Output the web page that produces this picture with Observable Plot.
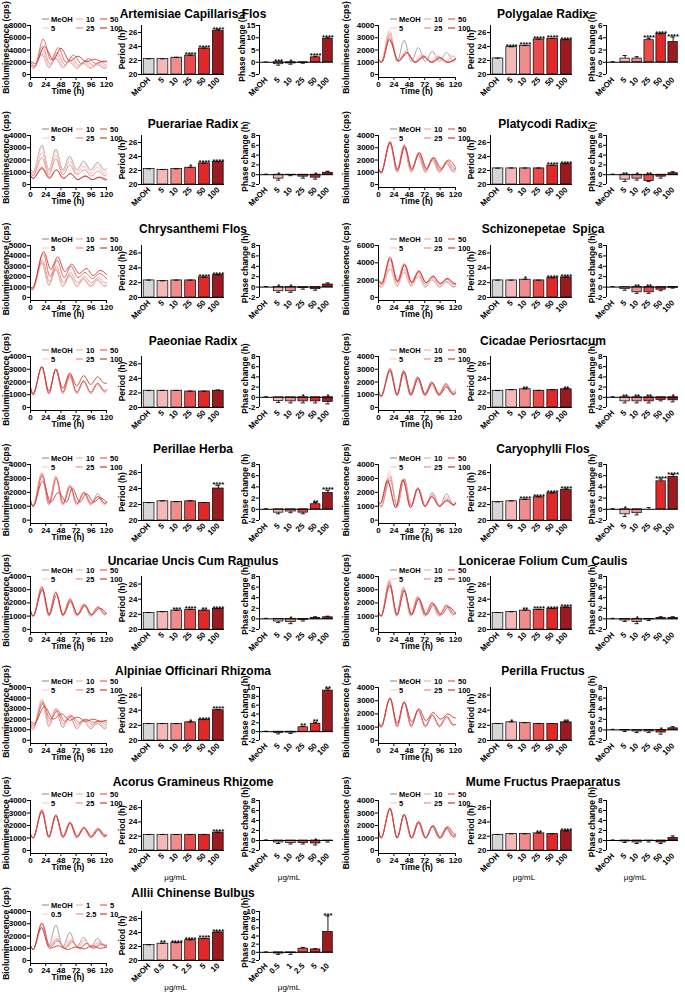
<!DOCTYPE html>
<html><head><meta charset="utf-8">
<script src="https://cdn.jsdelivr.net/npm/d3@7"></script>
<script src="https://cdn.jsdelivr.net/npm/@observablehq/plot@0.6"></script>
<style>
body{margin:0;background:#fff;}
#fig{position:relative;width:685px;height:992px;overflow:hidden;background:#fff;font-family:"Liberation Sans",Arial,sans-serif;}
#fig svg{position:absolute;}
</style></head><body><div id="fig"></div>
<script>
// ---------------- DATA ----------------
const titles = ["Artemisiae Capillaris Flos","Polygalae Radix","Puerariae Radix","Platycodi Radix",
  "Chrysanthemi Flos","Schizonepetae  Spica","Paeoniae Radix","Cicadae Periosrtacum",
  "Perillae Herba","Caryophylli Flos","Uncariae Uncis Cum Ramulus","Lonicerae Folium Cum Caulis",
  "Alpiniae Officinari Rhizoma","Perilla Fructus","Acorus Gramineus Rhizome","Mume Fructus Praeparatus",
  "Allii Chinense Bulbus"];
const doseLabels = ["MeOH","5","10","25","50","100"];
const alliiDoseLabels = ["MeOH","0.5","1","2.5","5","10"];
const timeTicks = [0,24,48,72,96,120];
const periodTicks = [20,22,24,26];
const unitLabel = "μg/mL";
const unitPanels = [14,15,16];
// luminescence axis maximum (×1000 cps) and tick step
const lumMax = [8,4,4,4,5,6,4,4,4,4,4,4,5,4,4,4,4];
const lumStep = [2,1,1,1,1,2,1,1,1,1,1,1,1,1,1,1,1];
// bioluminescence traces: [time h, cps/1000, ...] at peaks / troughs, series MeOH..highest dose
const lumCurves = [
[[0,1.5,5,1.0,18,3.3,29,1.1,40,2.6,51,1.1,62,2.1,73,1.0,84,1.8,95,1.0,106,1.6,117,1.0,120,1.1],
 [0,1.4,5,1.0,18,3.6,29,1.2,40,2.9,51,1.2,62,2.3,73,1.1,85,2.0,96,1.1,107,1.7,118,1.1,120,1.2],
 [0,1.6,5,1.1,19,4.0,30,1.4,41,3.2,52,1.3,63,2.5,74,1.3,86,2.1,97,1.3,108,1.8,119,1.3,120,1.3],
 [0,1.7,6,1.2,19,4.6,31,1.7,42,3.6,54,1.6,65,2.8,76,1.5,88,2.3,99,1.5,110,2.0,120,1.5],
 [0,1.9,7,1.4,20,5.8,32,2.4,44,4.4,56,2.0,68,3.2,80,1.8,92,2.6,103,1.8,115,2.2,120,2.0],
 [0,2.1,8,1.8,22,4.6,36,2.4,48,4.3,62,2.2,75,3.0,88,2.1,101,2.5,114,2.1,120,2.2]],
[[0,1.3,4,1.05,18,3.3,29,1.05,40,2.8,51,1.05,62,2.2,73,1.05,84,1.9,95,1.05,106,1.8,117,1.1,120,1.2],
 [0,1.25,4,1.0,17,3.7,30,1.1,42,2.0,55,1.0,67,1.7,80,1.0,91,1.6,103,1.0,114,1.6,120,1.4],
 [0,1.25,4,1.0,17,3.5,30,1.1,43,1.9,56,1.0,68,1.6,81,1.0,93,1.5,105,1.0,116,1.5,120,1.4],
 [0,1.2,5,1.0,17,3.1,31,1.1,44,1.8,57,1.0,70,1.5,83,1.0,95,1.4,108,1.0,120,1.3],
 [0,1.2,5,1.0,17,2.8,31,1.1,45,1.7,58,1.0,71,1.4,84,1.0,96,1.3,109,1.0,120,1.25],
 [0,1.2,5,1.0,17,2.9,31,1.1,44,1.8,57,1.0,70,1.5,83,1.0,95,1.4,108,1.0,120,1.3]],
[[0,1.3,4,1.0,18,3.2,29,1.2,40,2.9,51,1.2,62,2.3,73,1.2,84,1.9,95,1.2,106,1.8,117,1.2,120,1.3],
 [0,1.2,4,0.9,18,3.0,29,1.1,40,2.7,51,1.1,62,2.1,73,1.1,84,1.7,95,1.1,106,1.6,117,1.1,120,1.1],
 [0,1.1,4,0.8,18,2.6,29,1.0,40,2.4,51,1.0,62,1.9,73,0.9,84,1.5,95,0.9,106,1.4,117,0.9,120,1.0],
 [0,1.0,4,0.7,18,2.2,29,0.8,40,2.1,51,0.8,62,1.6,73,0.8,85,1.2,96,0.7,107,1.1,118,0.7,120,0.8],
 [0,0.8,4,0.5,18,1.4,30,0.6,41,1.2,52,0.5,63,0.9,74,0.4,86,0.7,97,0.4,108,0.6,119,0.35,120,0.4],
 [0,0.7,4,0.5,18,1.3,30,0.5,41,1.2,52,0.5,63,0.9,75,0.4,87,0.7,98,0.4,109,0.6,120,0.4]],
[[0,1.3,4,1.0,18,3.4,29,1.1,40,3.1,51,1.1,62,2.5,73,1.1,84,2.1,95,1.1,106,1.9,117,1.2,120,1.3],
 [0,1.2,4,0.9,18,3.6,29,1.1,40,3.3,51,1.1,62,2.6,73,1.1,84,2.2,95,1.1,106,1.9,117,1.1,120,1.2],
 [0,1.2,4,0.9,18,3.5,29,1.1,40,3.2,51,1.1,62,2.5,73,1.0,84,2.1,95,1.0,106,1.8,117,1.1,120,1.2],
 [0,1.2,4,0.9,18,3.3,29,1.0,40,3.0,51,1.0,62,2.4,73,1.0,84,2.0,95,1.0,106,1.7,117,1.0,120,1.1],
 [0,1.3,4,1.0,18,3.5,29,1.2,40,3.2,52,1.2,63,2.6,74,1.2,85,2.2,96,1.2,108,1.9,119,1.3,120,1.3],
 [0,1.3,4,1.0,18,3.4,30,1.2,41,3.1,52,1.3,64,2.6,75,1.3,86,2.2,98,1.3,109,2.0,120,1.4]],
[[0,0.8,3,0.7,18,3.3,29,1.2,40,2.7,51,1.1,62,2.1,73,1.1,84,1.8,95,1.1,106,1.7,117,1.1,120,1.2],
 [0,0.8,3,0.7,18,3.2,29,1.1,40,2.6,51,1.0,62,2.0,73,1.0,84,1.6,95,1.0,106,1.5,117,1.0,120,1.1],
 [0,0.8,3,0.7,18,3.4,29,1.2,40,2.8,51,1.1,62,2.2,73,1.1,84,1.8,95,1.1,106,1.7,117,1.1,120,1.2],
 [0,0.9,3,0.8,19,3.6,30,1.5,41,3.0,52,1.4,63,2.4,74,1.4,85,2.0,96,1.4,107,1.9,118,1.4,120,1.4],
 [0,1.0,3,0.9,20,4.2,31,2.0,42,3.6,53,1.9,64,3.0,75,1.9,86,2.4,98,1.8,109,2.3,120,1.8],
 [0,1.0,3,0.9,21,4.4,32,2.7,43,3.9,54,2.5,65,3.2,77,2.3,88,2.8,99,2.1,110,2.6,120,2.2]],
[[0,1.5,5,1.2,18,3.3,29,1.3,40,2.9,51,1.3,62,2.4,73,1.2,84,2.0,95,1.2,106,1.8,117,1.2,120,1.3],
 [0,1.4,5,1.1,18,3.4,29,1.2,40,3.0,51,1.2,62,2.4,73,1.1,84,2.0,95,1.1,106,1.7,117,1.1,120,1.2],
 [0,1.6,5,1.3,18,3.8,29,1.4,40,3.3,51,1.4,62,2.6,73,1.3,84,2.1,95,1.3,106,1.9,117,1.3,120,1.4],
 [0,1.8,5,1.5,18,4.3,29,1.7,40,3.7,51,1.6,62,2.9,73,1.5,84,2.3,95,1.5,106,2.1,117,1.5,120,1.5],
 [0,2.0,5,1.7,18,4.7,29,1.9,40,3.9,51,1.8,63,3.1,74,1.7,85,2.5,96,1.6,107,2.2,118,1.6,120,1.6],
 [0,1.9,5,1.6,18,4.5,30,1.8,41,3.8,52,1.7,63,3.0,74,1.7,85,2.4,97,1.6,108,2.2,119,1.6,120,1.6]],
[[0,1.5,4,1.0,18,3.2,29,1.1,40,3.0,51,1.1,62,2.4,73,1.1,84,2.0,95,1.1,106,1.8,117,1.2,120,1.3],
 [0,1.4,4,1.0,18,3.2,29,1.1,40,3.0,51,1.1,62,2.5,73,1.1,84,2.0,95,1.1,106,1.8,117,1.2,120,1.3],
 [0,1.4,4,1.0,18,3.1,29,1.1,40,2.9,51,1.1,62,2.4,73,1.1,84,2.0,95,1.1,106,1.8,117,1.2,120,1.3],
 [0,1.5,4,1.0,18,3.2,29,1.1,40,3.0,51,1.2,62,2.5,73,1.2,84,2.1,95,1.2,106,1.9,117,1.3,120,1.4],
 [0,1.5,4,1.0,18,3.2,29,1.1,40,3.0,51,1.2,62,2.6,73,1.2,84,2.1,95,1.2,106,1.9,117,1.3,120,1.4],
 [0,1.6,4,1.1,18,3.2,29,1.3,40,3.0,51,1.5,62,2.7,73,1.7,84,2.5,95,1.8,106,2.4,117,1.9,120,1.9]],
[[0,1.3,4,0.9,18,3.1,29,1.1,39,2.9,50,1.1,61,2.4,72,1.1,83,2.0,94,1.1,105,1.9,116,1.2,120,1.4],
 [0,1.2,4,0.9,18,3.0,29,1.0,39,2.8,50,1.0,61,2.3,72,1.0,83,1.9,94,1.0,105,1.7,116,1.1,120,1.2],
 [0,1.2,4,0.9,18,2.9,29,1.0,39,2.8,50,1.0,61,2.3,72,1.0,83,1.9,94,1.0,105,1.7,116,1.1,120,1.2],
 [0,1.2,4,0.8,18,2.8,29,0.9,39,2.7,50,0.9,61,2.2,72,0.9,83,1.8,94,0.9,105,1.6,116,1.0,120,1.1],
 [0,1.2,4,0.9,18,3.0,29,1.0,39,2.9,50,1.0,61,2.4,72,1.0,83,2.0,94,1.0,105,1.8,116,1.1,120,1.2],
 [0,1.2,4,0.9,18,2.9,29,1.0,40,2.8,51,1.0,62,2.3,73,1.0,84,1.9,95,1.0,106,1.6,117,1.0,120,1.1]],
[[0,1.4,4,1.0,18,3.2,29,1.1,40,3.1,51,1.1,62,2.5,73,1.1,84,2.0,95,1.1,106,1.9,117,1.2,120,1.3],
 [0,1.4,4,1.0,18,3.4,29,1.1,40,3.2,51,1.1,62,2.5,73,1.1,84,2.0,95,1.1,106,1.7,117,1.1,120,1.2],
 [0,1.4,4,1.0,18,3.3,29,1.1,40,3.1,51,1.1,62,2.4,73,1.1,84,2.0,95,1.1,106,1.7,117,1.1,120,1.2],
 [0,1.4,4,1.0,18,3.4,29,1.2,40,3.1,51,1.2,62,2.5,73,1.2,84,2.0,95,1.2,106,1.7,117,1.2,120,1.3],
 [0,1.4,4,1.0,19,3.2,30,1.2,41,3.0,52,1.2,63,2.4,74,1.2,85,2.0,96,1.2,107,1.7,118,1.2,120,1.3],
 [0,1.4,4,1.0,19,2.8,32,1.3,44,2.0,57,1.3,66,2.3,78,1.3,88,1.9,100,1.3,110,1.6,120,1.3]],
[[0,1.2,4,1.0,18,2.9,29,1.0,40,3.0,51,1.0,62,2.3,73,1.0,84,2.0,95,1.0,106,1.9,117,1.1,120,1.3],
 [0,1.1,4,0.9,17,3.6,29,1.0,40,2.9,51,1.0,62,2.3,73,1.0,84,1.9,95,1.0,106,1.7,117,1.1,120,1.2],
 [0,1.1,4,0.9,17,3.3,29,1.0,40,2.9,51,1.0,62,2.3,73,1.0,84,1.9,95,1.0,106,1.6,117,1.0,120,1.2],
 [0,1.2,4,1.0,18,3.1,29,1.0,40,2.9,51,1.0,62,2.3,73,1.0,85,1.8,96,1.0,107,1.5,118,1.1,120,1.2],
 [0,1.3,3,1.2,14,2.9,27,0.9,38,2.9,50,0.9,61,2.3,72,1.0,83,1.7,95,1.0,106,1.4,117,1.1,120,1.2],
 [0,1.3,3,1.2,14,2.8,27,0.9,38,2.9,50,0.9,61,2.3,72,1.0,83,1.7,95,1.0,106,1.4,118,1.1,120,1.2]],
[[0,1.4,4,1.0,18,3.0,29,1.0,40,2.8,51,1.0,62,2.2,73,1.0,84,1.9,95,1.0,106,1.7,117,1.1,120,1.2],
 [0,1.4,4,1.0,18,3.3,29,1.1,40,2.9,51,1.1,62,2.3,73,1.1,84,1.9,95,1.1,106,1.7,117,1.1,120,1.2],
 [0,1.4,4,1.0,18,3.2,29,1.1,40,2.8,51,1.1,62,2.3,73,1.1,84,1.9,95,1.1,106,1.7,117,1.1,120,1.2],
 [0,1.4,4,1.0,18,3.1,29,1.1,40,2.8,51,1.1,63,2.2,74,1.1,85,1.8,96,1.1,107,1.6,118,1.1,120,1.2],
 [0,1.4,4,1.0,18,3.2,29,1.1,40,2.8,51,1.1,63,2.3,74,1.1,85,1.9,96,1.1,107,1.7,118,1.2,120,1.2],
 [0,1.4,4,1.0,19,3.0,30,1.1,41,2.6,52,1.1,63,2.1,75,1.1,86,1.8,97,1.1,109,1.6,120,1.2]],
[[0,1.3,4,1.0,17,3.5,28,1.0,39,3.1,50,1.0,61,2.4,72,1.0,83,2.0,94,1.0,105,1.8,116,1.1,120,1.3],
 [0,1.3,4,1.0,17,3.8,28,1.1,39,3.2,50,1.1,61,2.5,72,1.0,83,2.1,94,1.0,105,1.9,116,1.1,120,1.3],
 [0,1.3,4,1.0,17,3.7,28,1.1,39,3.2,50,1.1,61,2.5,72,1.0,83,2.0,94,1.0,105,1.8,116,1.1,120,1.2],
 [0,1.3,4,1.0,17,3.6,28,1.1,39,3.1,51,1.1,62,2.4,73,1.1,84,2.0,95,1.1,106,1.8,117,1.1,120,1.2],
 [0,1.3,4,1.0,17,3.4,29,1.1,40,3.0,51,1.1,62,2.4,73,1.1,84,2.0,96,1.1,107,1.8,118,1.2,120,1.2],
 [0,1.3,4,1.0,18,3.3,29,1.1,40,2.9,52,1.1,63,2.3,75,1.1,86,1.9,98,1.1,109,1.7,120,1.2]],
[[0,1.4,4,1.0,18,3.6,29,1.3,40,2.8,51,1.2,62,2.2,73,1.1,84,1.8,95,1.1,106,1.6,117,1.1,120,1.2],
 [0,1.4,4,1.0,18,3.8,29,1.4,40,2.9,51,1.3,62,2.3,73,1.2,84,1.9,95,1.2,106,1.7,117,1.2,120,1.3],
 [0,1.5,4,1.1,18,3.9,29,1.5,40,3.0,51,1.4,62,2.4,73,1.3,84,2.0,95,1.3,106,1.8,117,1.3,120,1.4],
 [0,1.6,5,1.2,19,3.7,30,1.7,41,3.0,52,1.6,63,2.4,75,1.5,86,2.0,97,1.5,108,1.8,119,1.5,120,1.5],
 [0,1.7,5,1.4,20,3.5,31,2.0,43,2.8,54,1.8,65,2.3,77,1.7,88,2.0,99,1.7,110,1.8,120,1.7],
 [0,1.8,6,1.6,22,3.2,36,2.0,49,2.5,62,1.9,74,2.2,87,1.8,99,2.0,111,1.8,120,1.9]],
[[0,1.3,4,1.0,18,3.1,29,1.0,40,2.9,51,1.0,62,2.3,73,1.0,84,1.9,95,1.0,106,1.8,117,1.1,120,1.2],
 [0,1.3,4,1.0,18,3.2,29,1.0,40,2.9,51,1.0,62,2.3,73,1.0,84,1.9,95,1.0,106,1.8,117,1.1,120,1.2],
 [0,1.3,4,1.0,18,3.2,29,1.0,40,2.9,51,1.0,62,2.3,73,1.0,84,1.9,95,1.0,106,1.7,117,1.1,120,1.2],
 [0,1.3,4,1.0,18,3.2,29,1.1,40,2.9,51,1.1,62,2.3,73,1.1,84,1.9,95,1.1,106,1.8,117,1.2,120,1.2],
 [0,1.3,4,1.0,18,3.2,29,1.1,40,2.9,51,1.1,62,2.3,73,1.1,84,1.9,95,1.1,106,1.8,117,1.2,120,1.2],
 [0,1.4,4,1.1,18,3.2,29,1.3,40,2.9,52,1.4,63,2.4,74,1.5,85,2.1,97,1.6,108,2.0,119,1.7,120,1.7]],
[[0,1.3,4,1.0,18,3.3,29,1.1,40,2.9,51,1.1,62,2.3,73,1.1,84,1.9,95,1.1,106,1.8,117,1.2,120,1.3],
 [0,1.3,4,1.0,18,3.2,29,1.1,40,2.9,51,1.1,62,2.3,73,1.1,84,1.9,95,1.1,106,1.7,117,1.1,120,1.2],
 [0,1.3,4,1.0,18,3.2,29,1.1,40,2.8,51,1.1,62,2.2,73,1.1,84,1.8,95,1.1,106,1.7,117,1.1,120,1.2],
 [0,1.3,4,1.0,18,3.1,29,1.0,40,2.8,51,1.0,62,2.2,73,1.0,84,1.8,95,1.0,106,1.6,117,1.1,120,1.2],
 [0,1.3,4,1.0,18,3.2,29,1.1,40,2.8,51,1.1,62,2.2,73,1.1,84,1.8,95,1.1,106,1.7,117,1.1,120,1.2],
 [0,1.3,4,1.0,18,3.1,29,1.1,40,2.8,52,1.1,63,2.2,74,1.1,85,1.8,97,1.1,108,1.7,119,1.2,120,1.2]],
[[0,1.6,4,1.0,18,3.4,29,1.0,40,2.9,51,1.0,62,2.3,73,1.0,84,2.0,95,1.0,106,1.9,117,1.2,120,1.3],
 [0,1.6,4,1.0,18,3.4,29,1.0,40,2.9,51,1.0,62,2.3,73,1.0,84,1.9,95,1.0,106,1.8,117,1.1,120,1.2],
 [0,1.6,4,1.0,18,3.3,29,1.0,40,2.8,51,1.0,62,2.2,73,1.0,84,1.9,95,1.0,106,1.7,117,1.1,120,1.1],
 [0,1.6,4,1.0,18,3.3,29,1.0,40,2.8,51,1.0,62,2.2,73,1.0,84,1.9,95,1.0,106,1.7,117,1.1,120,1.1],
 [0,1.6,4,1.0,18,3.3,29,1.0,40,2.9,51,1.0,62,2.3,73,1.0,84,1.9,95,1.0,106,1.8,117,1.1,120,1.2],
 [0,1.6,4,1.0,18,3.4,29,1.0,40,2.9,52,1.0,63,2.3,74,1.0,85,2.0,97,1.0,108,1.9,119,1.3,120,1.3]],
[[0,1.2,4,0.9,18,2.7,29,1.2,40,2.9,51,1.1,62,2.3,73,1.1,84,1.9,95,1.1,106,1.8,117,1.2,120,1.3],
 [0,1.2,4,0.9,18,3.1,29,1.2,41,2.0,52,1.1,63,1.9,74,1.1,85,1.7,96,1.1,107,1.6,118,1.1,120,1.2],
 [0,1.2,4,0.9,18,3.0,30,1.2,42,1.8,53,1.1,64,1.7,75,1.1,86,1.6,97,1.1,108,1.5,119,1.1,120,1.2],
 [0,1.2,4,0.9,18,3.1,30,1.2,42,1.7,54,1.0,65,1.6,77,1.0,88,1.4,99,1.0,110,1.4,120,1.2],
 [0,1.2,4,0.9,18,3.0,31,1.1,43,1.6,55,1.0,66,1.5,78,1.0,89,1.4,100,1.0,111,1.3,120,1.2],
 [0,1.2,4,0.9,17,2.7,30,1.0,44,1.2,58,0.9,72,1.1,84,0.95,98,1.2,110,1.0,120,1.1]]
];
// period (h): mean, SEM, significance
const periodMean = [
 [22.2,22.2,22.4,22.7,23.7,26.2],[22.3,23.9,24.1,25.0,25.1,24.9],[22.2,22.1,22.2,22.4,23.0,23.2],
 [22.3,22.3,22.3,22.3,22.7,22.9],[22.3,22.2,22.3,22.3,22.7,23.0],[22.3,22.3,22.4,22.3,22.6,22.7],
 [22.3,22.3,22.3,22.2,22.2,22.3],[22.3,22.4,22.5,22.3,22.4,22.5],[22.2,22.4,22.3,22.4,22.2,24.0],
 [22.3,22.4,22.6,22.9,23.4,23.8],[22.2,22.3,22.5,22.6,22.5,22.7],[22.2,22.3,22.5,22.6,22.7,22.9],
 [22.2,22.2,22.2,22.4,22.7,24.0],[22.2,22.4,22.3,22.2,22.2,22.4],[22.2,22.2,22.2,22.2,22.2,22.5],
 [22.2,22.3,22.3,22.4,22.3,22.7],[22.2,22.4,22.5,22.9,23.1,24.0]];
const periodErr = [
 [0.04,0.04,0.05,0.06,0.08,0.2],[0.03,0.06,0.05,0.06,0.06,0.08],[0.04,0.04,0.04,0.05,0.06,0.06],
 [0.03,0.05,0.05,0.05,0.05,0.08],[0.04,0.04,0.04,0.04,0.06,0.06],[0.03,0.03,0.05,0.03,0.05,0.05],
 [0.03,0.04,0.04,0.04,0.04,0.1],[0.03,0.04,0.05,0.04,0.04,0.05],[0.04,0.05,0.05,0.06,0.05,0.4],
 [0.03,0.05,0.05,0.05,0.06,0.15],[0.04,0.05,0.05,0.06,0.06,0.06],[0.04,0.05,0.05,0.05,0.05,0.06],
 [0.04,0.04,0.04,0.05,0.06,0.1],[0.04,0.06,0.05,0.05,0.05,0.06],[0.04,0.04,0.04,0.04,0.04,0.06],
 [0.04,0.04,0.04,0.05,0.04,0.05],[0.04,0.05,0.04,0.05,0.05,0.06]];
const periodSig = [
 ["","","","****","****","****"],["","****","****","****","****","****"],["","","","*","****","****"],
 ["","","","","****","****"],["","","","","****","****"],["","","*","","****","****"],
 ["","","","","",""],["","","**","","","**"],["","","","","","****"],
 ["","","****","****","****","****"],["","","***","****","**","****"],["","","**","****","****","****"],
 ["","","","*","****","****"],["","*","","","","**"],["","","","","","****"],
 ["","","","**","","****"],["","**","****","****","****","****"]];
// phase change (h): mean, SEM, significance, axis domain
const phaseMean = [
 [0,-0.8,-0.5,-0.2,2.0,9.5],[0,0.6,0.6,3.6,4.6,3.3],[0,-0.8,-0.1,-0.4,-0.6,0.4],
 [0,-1.0,-0.8,-1.3,-0.4,0.3],[0,-0.8,-0.8,-0.2,-0.4,0.5],[0,-0.4,-1.0,-1.0,-0.5,-0.1],
 [0,-0.7,-0.8,-0.8,-0.8,-0.9],[0,-0.8,-0.8,-0.8,-0.5,-0.6],[0,-0.6,-0.4,-0.6,0.9,2.9],
 [0,-0.9,-0.7,0,5.0,5.8],[0,-0.5,-0.6,-0.2,0.2,0.3],[0,-0.3,-0.6,-0.1,0.2,0.2],
 [0,-0.3,-0.2,1.0,1.8,9.3],[0,-0.1,-0.3,-0.3,-0.5,0.3],[0,-0.4,-0.5,-0.5,-0.6,-0.1],
 [0,-0.2,-0.4,-0.1,-0.4,0.5],[0,-0.3,-0.2,0.9,0.7,5.0]];
const phaseErr = [
 [0.1,0.4,0.3,0.2,0.4,0.5],[0.1,0.5,0.3,0.3,0.05,0.8],[0.1,0.3,0.1,0.3,0.3,0.3],
 [0.1,0.4,0.3,0.1,0.3,0.3],[0.1,0.2,0.2,0.2,0.2,0.3],[0.1,0.2,0.2,0.2,0.2,0.1],
 [0.1,0.3,0.3,0.3,0.3,0.4],[0.1,0.3,0.3,0.3,0.2,0.3],[0.1,0.2,0.2,0.2,0.3,0.5],
 [0.1,0.4,0.3,0.3,0.4,0.4],[0.1,0.2,0.3,0.2,0.2,0.2],[0.1,0.2,0.3,0.2,0.2,0.2],
 [0.1,0.2,0.2,0.2,0.3,0.4],[0.1,0.2,0.2,0.2,0.3,0.3],[0.1,0.2,0.2,0.2,0.3,0.2],
 [0.1,0.2,0.2,0.2,0.2,0.4],[0.1,0.2,0.3,0.3,0.2,3.9]];
const phaseSig = [
 ["","***","*","","****","****"],["","","","****","****","****"],["","*","","","*",""],
 ["","**","*","**","",""],["","*","*","","",""],["","","**","**","",""],
 ["","","","*","","*"],["","**","**","**","","*"],["","","","","**","****"],
 ["","*","","","****","****"],["","","*","","",""],["","","*","","",""],
 ["","","","**","**","**"],["","","","","*",""],["","","","","*",""],
 ["","","","","",""],["","","","","","***"]];
const phaseDomain = [[-5,15],[-2,6],[-2,8],[-2,8],[-2,8],[-2,8],[-2,8],[-2,8],[-2,8],[-2,8],
 [-2,8],[-2,8],[-2,10],[-2,8],[-2,8],[-2,8],[-2,10]];
const phaseStep = [5,2,2,2,2,2,2,2,2,2,2,2,2,2,2,2,2];

// ---------------- STYLE / LAYOUT ----------------
const lineColors = ["#9a9a9a","#f9d0d0","#f5b0ad","#f08a84","#e65f58","#c43c3c"];
const barColors = ["#d6d6d6","#f5b8b8","#f08c8c","#e84c4c","#e02828","#9c1b20"];
const FONT = "'Liberation Sans', Arial, Helvetica, sans-serif";
const cols = [
  {line:[30,106], per:[141,224], ph:[259,333], titleX:193, lumLab:6},
  {line:[378,455], per:[490,572], ph:[606,678], titleX:543, lumLab:346}];
const rows = [[25,74],[135,184],[245,297],[356,407],[464,520],[576,629],[687,740],[800,850],[911,960]];
const titleY = [14,124,229,341,449,561,671,782,893];
const baseStyle = {fontFamily: FONT, fontSize: "8px", fontWeight: "bold", overflow: "visible",
  background: "transparent", color: "#000"};
const fmt = d => String(d);

const fig = document.getElementById("fig");
function place(svg, left, top) {
  svg.style.position = "absolute"; svg.style.left = left + "px"; svg.style.top = top + "px";
  svg.style.maxWidth = "none"; fig.appendChild(svg);
}

function linePlot(p, x0, x1, top, bot) {
  const max = lumMax[p] * 1000, ymin = -0.06 * max;
  const data = [];
  lumCurves[p].forEach((arr, s) => { for (let k = 0; k < arr.length; k += 2) data.push({t: arr[k], v: arr[k+1] * 1000, s}); });
  const mL = 30, mR = 10, mT = 6, mB = 24, axisBot = bot + 3;
  const svg = Plot.plot({
    width: x1 - x0 + mL + mR, height: axisBot - top + mT + mB,
    marginLeft: mL, marginRight: mR, marginTop: mT, marginBottom: mB,
    x: {domain: [0, 120]}, y: {domain: [ymin, max]},
    color: {domain: d3.range(6), range: lineColors},
    style: baseStyle,
    marks: [
      Plot.line(data, {x: "t", y: "v", z: "s", stroke: "s", strokeWidth: 0.9, curve: "monotone-x"}),
      Plot.ruleX([0], {stroke: "#000", strokeWidth: 1}),
      Plot.ruleY([ymin], {stroke: "#000", strokeWidth: 1}),
      Plot.axisX({ticks: timeTicks, tickFormat: fmt, tickSize: 3, tickPadding: 1, label: null}),
      Plot.axisY({ticks: d3.range(0, max + 1, lumStep[p] * 1000), tickFormat: fmt, tickSize: 3, tickPadding: 1, label: null})
    ]
  });
  place(svg, x0 - mL, top - mT);
}

function barPlot(p, kind, ax, x1, top, bot) {
  const isPer = kind === "period";
  const means = isPer ? periodMean[p] : phaseMean[p];
  const errs = isPer ? periodErr[p] : phaseErr[p];
  const sigs = isPer ? periodSig[p] : phaseSig[p];
  const labels = p === 16 ? alliiDoseLabels : doseLabels;
  const dom = isPer ? [20, 27] : phaseDomain[p];
  const ticks = isPer ? periodTicks : d3.range(dom[0], dom[1] + 0.001, phaseStep[p]);
  const base = isPer ? 20 : 0;
  const data = means.map((m, i) => ({i, m, e: errs[i], sig: sigs[i]}));
  const end = d => d.m + (d.m >= base ? d.e : -d.e);
  const mL = 24, mR = 4, mT = 8, mB = 30;
  const svg = Plot.plot({
    width: x1 - ax + mL + mR, height: bot - top + mT + mB,
    marginLeft: mL, marginRight: mR, marginTop: mT, marginBottom: mB,
    x: {domain: [-0.55, 5.45]}, y: {domain: dom},
    color: {domain: d3.range(6), range: barColors},
    style: baseStyle,
    marks: [
      Plot.rectY(data, {x1: d => d.i - 0.39, x2: d => d.i + 0.39, y1: () => base, y2: "m", fill: "i", stroke: "#000", strokeWidth: 0.7}),
      Plot.ruleX(data, {x: "i", y1: "m", y2: end, stroke: "#000", strokeWidth: 0.9}),
      Plot.ruleY(data, {y: end, x1: d => d.i - 0.17, x2: d => d.i + 0.17, stroke: "#000", strokeWidth: 0.9}),
      Plot.ruleY([base], {stroke: "#000", strokeWidth: 1}),
      Plot.ruleX([-0.55], {stroke: "#000", strokeWidth: 1}),
      Plot.text(data, {x: "i", y: d => Math.max(base, d.m + (d.m >= base ? d.e : 0)), text: "sig",
        lineAnchor: "bottom", dy: 2, fontSize: 7.5, fontWeight: "bold"}),
      Plot.axisY({ticks, tickFormat: fmt, tickSize: 3, tickPadding: 1, label: null}),
      Plot.axisX({ticks: d3.range(6), tickFormat: i => labels[i], tickRotate: -45, tickSize: 0, tickPadding: 4, label: null})
    ]
  });
  place(svg, ax - mL, top - mT);
}

titles.forEach((t, p) => {
  const c = cols[p % 2], r = Math.floor(p / 2), [top, bot] = rows[r];
  linePlot(p, c.line[0], c.line[1], top, bot);
  barPlot(p, "period", c.per[0], c.per[1], top, bot);
  barPlot(p, "phase", c.ph[0], c.ph[1], top, bot);
});

// ---------------- overlay text: titles, axis titles, legends ----------------
const ov = d3.select(fig).append("svg").attr("width", 685).attr("height", 992)
  .style("left", "0px").style("top", "0px").style("font-family", FONT).style("pointer-events", "none");
titles.forEach((t, p) => {
  const c = cols[p % 2], r = Math.floor(p / 2), [top, bot] = rows[r];
  const labels = p === 16 ? alliiDoseLabels : doseLabels;
  ov.append("text").attr("x", c.titleX).attr("y", titleY[r]).attr("text-anchor", "middle")
    .attr("dominant-baseline", "central").attr("font-size", 12).attr("font-weight", "bold")
    .attr("xml:space", "preserve").style("white-space", "pre").text(t);
  const mid = (top + bot) / 2;
  const yl = (x, y, s) => ov.append("text").attr("transform", `translate(${x},${y}) rotate(-90)`)
    .attr("text-anchor", "middle").attr("dominant-baseline", "central").attr("font-size", 8.5)
    .attr("font-weight", "bold").text(s);
  yl(c.lumLab, mid - 2, "Bioluminescence (cps)");
  yl(c.per[0] - 19, mid, "Period (h)");
  yl(c.ph[0] - (p === 0 ? 17 : 14), mid - 3, "Phase change (h)");
  ov.append("text").attr("x", (c.line[0] + c.line[1]) / 2).attr("y", bot + 17).attr("text-anchor", "middle")
    .attr("dominant-baseline", "central").attr("font-size", 8.5).attr("font-weight", "bold").text("Time (h)");
  // legend
  const sw = [12, 46, 70], tx = [21, 56, 80];
  labels.forEach((lab, i) => {
    const col = Math.floor(i / 2), row = i % 2, y = top + (row ? 3 : -6);
    ov.append("line").attr("x1", c.line[0] + sw[col]).attr("x2", c.line[0] + sw[col] + 7)
      .attr("y1", y).attr("y2", y).attr("stroke", lineColors[i]).attr("stroke-width", 1.2);
    ov.append("text").attr("x", c.line[0] + tx[col]).attr("y", y).attr("dominant-baseline", "central")
      .attr("font-size", 7.5).attr("font-weight", "bold").text(lab);
  });
  if (unitPanels.includes(p)) {
    [[c.per[0], c.per[1]], [c.ph[0], c.ph[1]]].forEach(([a, b]) => {
      ov.append("text").attr("x", (a + b) / 2 - 7).attr("y", bot + 27).attr("text-anchor", "middle")
        .attr("dominant-baseline", "central").attr("font-size", 8).text(unitLabel);
    });
  }
});
</script></body></html>
